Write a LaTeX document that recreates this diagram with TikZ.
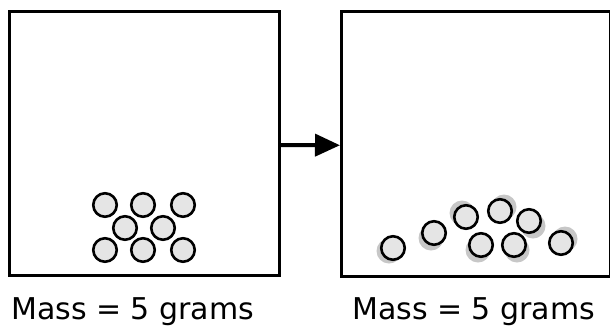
\documentclass[tikz,border=0pt]{standalone}
\usepackage{fontspec}
\setmainfont{DejaVu Sans}
\usetikzlibrary{arrows.meta}
\begin{document}
\begin{tikzpicture}[x=1pt,y=-1pt,
  box/.style={draw=black,line width=3pt,minimum width=270pt,minimum height=264pt,inner sep=0pt},
  ball/.style={circle,draw=black,line width=2.6pt,fill=black!10,minimum size=23.5pt,inner sep=0pt},
  shade/.style={fill=black!22},
  label/.style={anchor=base west,inner sep=0pt,font=\fontsize{30}{32}\selectfont},
  arr/.style={line width=4pt,-{Triangle[length=25pt,width=22pt]}}]
\useasboundingbox (0,0) rectangle (610,330);
\node[box] (L) at (144.5,143.5) {};
\node[box,minimum width=268.5pt,minimum height=264.5pt] (R) at (475.75,143.75) {};
\draw[arr] ([yshift=-1.5pt]L.east) -- ([yshift=-1.5pt]R.west);
% left cluster
\foreach \n/\x/\y in {a1/105/205,a2/143/205,a3/183/205,a4/125/228,a5/163/228,a6/105/250,a7/143/250,a8/183/250}
  \node[ball] (\n) at (\x,\y) {};
% right shadows
\foreach \x/\y in {389/251,431/238,462/213,504/207,533/226,478/250,517/250,565/239}
  \fill[shade] (\x,\y) circle (12.5);
\foreach \n/\x/\y in {b1/393/248,b2/434/233,b3/466/217,b4/500/211,b5/529/221,b6/481/245,b7/514/245,b8/561/243}
  \node[ball] (\n) at (\x,\y) {};
\node[label] (t1) at (11,319) {Mass = 5 grams};
\node[label] (t2) at (352,319) {Mass = 5 grams};
\end{tikzpicture}
\end{document}
